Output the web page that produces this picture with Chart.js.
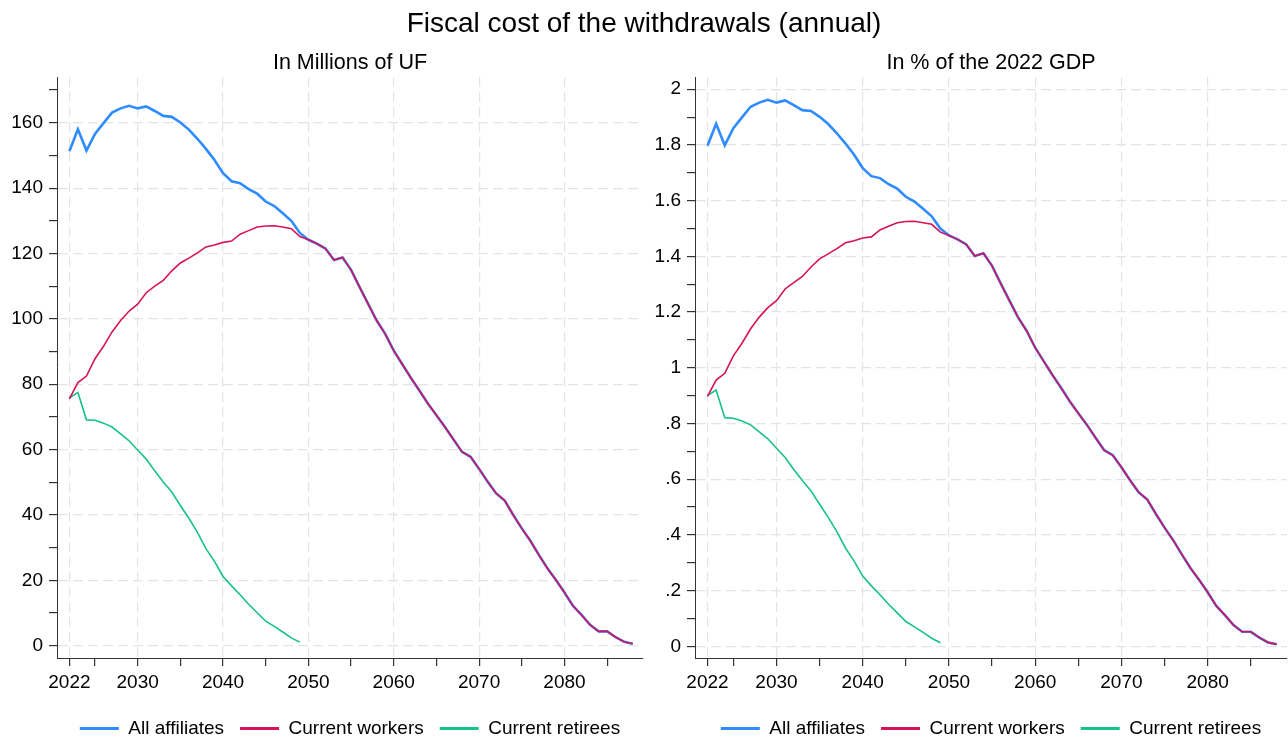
<!DOCTYPE html>
<html>
<head>
<meta charset="utf-8">
<title>Fiscal cost of the withdrawals (annual)</title>
<script src="https://cdn.jsdelivr.net/npm/chart.js@4.4.1/dist/chart.umd.min.js"></script>
<style>
	body { margin: 0; width: 1288px; height: 737px; overflow: hidden; background: #fff; position: relative; }
	#title { position: absolute; top: 9px; left: 0; width: 1288px; text-align: center; font: 28px/28px 'Liberation Sans', Arial, sans-serif; color: #000; z-index: 2; }
	.panel { position: absolute; top: 0; width: 644px; height: 748px; }
</style>
</head>
<body>
<div id="title">Fiscal cost of the withdrawals (annual)</div>
<div class="panel" style="left:0"><canvas id="ufChart"></canvas></div>
<div class="panel" style="left:644px"><canvas id="gdpChart"></canvas></div>
<script>
// Years on the x axis.
const years = [2022, 2023, 2024, 2025, 2026, 2027, 2028, 2029, 2030, 2031,
	2032, 2033, 2034, 2035, 2036, 2037, 2038, 2039, 2040, 2041,
	2042, 2043, 2044, 2045, 2046, 2047, 2048, 2049, 2050, 2051,
	2052, 2053, 2054, 2055, 2056, 2057, 2058, 2059, 2060, 2061,
	2062, 2063, 2064, 2065, 2066, 2067, 2068, 2069, 2070, 2071,
	2072, 2073, 2074, 2075, 2076, 2077, 2078, 2079, 2080, 2081,
	2082, 2083, 2084, 2085, 2086, 2087, 2088];

// Series labels.
const seriesNames = ["All affiliates", "Current workers", "Current retirees"];

// Left panel, in millions of UF.
const ufAll = [151.3, 158.0, 151.5, 156.6, 159.9, 163.1, 164.4, 165.2, 164.4, 165.0,
	163.6, 162.1, 161.8, 160.1, 157.9, 155.1, 152.0, 148.6, 144.6, 142.1,
	141.5, 139.7, 138.3, 135.9, 134.5, 132.3, 130.0, 126.3, 124.2, 123.0,
	121.5, 118.0, 118.8, 115.0, 109.7, 104.6, 99.5, 95.4, 90.3, 86.1,
	82.0, 78.1, 74.1, 70.5, 66.9, 63.1, 59.3, 57.8, 54.1, 50.2,
	46.6, 44.4, 40.0, 35.9, 32.1, 27.8, 23.7, 20.1, 16.3, 12.2,
	9.4, 6.4, 4.4, 4.4, 2.6, 1.2, 0.6];
const ufWorkers = [75.5, 80.5, 82.5, 87.8, 91.6, 96.0, 99.5, 102.4, 104.5, 108.0,
	110.0, 111.8, 114.7, 117.1, 118.6, 120.2, 122.0, 122.6, 123.4, 123.8,
	125.9, 127.0, 128.1, 128.4, 128.5, 128.1, 127.6, 125.2, 124.2, 123.0,
	121.5, 118.0, 118.8, 115.0, 109.7, 104.6, 99.5, 95.4, 90.3, 86.1,
	82.0, 78.1, 74.1, 70.5, 66.9, 63.1, 59.3, 57.8, 54.1, 50.2,
	46.6, 44.4, 40.0, 35.9, 32.1, 27.8, 23.7, 20.1, 16.3, 12.2,
	9.4, 6.4, 4.4, 4.4, 2.6, 1.2, 0.6];
const ufRetirees = [75.8, 77.5, 69.1, 69.0, 68.1, 66.9, 64.8, 62.7, 59.9, 57.1,
	53.5, 50.1, 47.0, 42.9, 39.0, 34.7, 29.7, 25.8, 21.2, 18.3,
	15.6, 12.7, 10.1, 7.5, 5.9, 4.2, 2.4, 1.1];

// Right panel, in % of the 2022 GDP.
const gdpAll = [1.797, 1.876, 1.799, 1.860, 1.899, 1.937, 1.952, 1.962, 1.952, 1.960,
	1.943, 1.925, 1.922, 1.901, 1.875, 1.842, 1.805, 1.765, 1.717, 1.688,
	1.681, 1.659, 1.643, 1.614, 1.597, 1.571, 1.544, 1.500, 1.475, 1.461,
	1.443, 1.401, 1.411, 1.366, 1.303, 1.242, 1.182, 1.133, 1.072, 1.023,
	0.974, 0.928, 0.880, 0.837, 0.795, 0.749, 0.704, 0.686, 0.643, 0.596,
	0.553, 0.527, 0.475, 0.426, 0.381, 0.330, 0.281, 0.239, 0.194, 0.145,
	0.112, 0.076, 0.052, 0.052, 0.031, 0.014, 0.007];
const gdpWorkers = [0.897, 0.956, 0.980, 1.043, 1.088, 1.140, 1.182, 1.216, 1.241, 1.283,
	1.306, 1.328, 1.362, 1.391, 1.409, 1.428, 1.449, 1.456, 1.466, 1.470,
	1.495, 1.508, 1.521, 1.525, 1.526, 1.521, 1.515, 1.487, 1.475, 1.461,
	1.443, 1.401, 1.411, 1.366, 1.303, 1.242, 1.182, 1.133, 1.072, 1.023,
	0.974, 0.928, 0.880, 0.837, 0.795, 0.749, 0.704, 0.686, 0.643, 0.596,
	0.553, 0.527, 0.475, 0.426, 0.381, 0.330, 0.281, 0.239, 0.194, 0.145,
	0.112, 0.076, 0.052, 0.052, 0.031, 0.014, 0.007];
const gdpRetirees = [0.900, 0.920, 0.821, 0.819, 0.809, 0.795, 0.770, 0.745, 0.711, 0.678,
	0.635, 0.595, 0.558, 0.510, 0.463, 0.412, 0.353, 0.306, 0.252, 0.217,
	0.185, 0.151, 0.120, 0.089, 0.070, 0.050, 0.029, 0.013];

// Tick positions and labels.
const xMajor = [2022, 2030, 2040, 2050, 2060, 2070, 2080];
const xMinor = [2025, 2035, 2045, 2055, 2065, 2075, 2085];
const ufMajor = [0, 20, 40, 60, 80, 100, 120, 140, 160];
const ufMinor = [10, 30, 50, 70, 90, 110, 130, 150, 170];
const ufLabels = ["0", "20", "40", "60", "80", "100", "120", "140", "160"];
const gdpMajor = [0, 0.2, 0.4, 0.6, 0.8, 1, 1.2, 1.4, 1.6, 1.8, 2];
const gdpMinor = [0.1, 0.3, 0.5, 0.7, 0.9, 1.1, 1.3, 1.5, 1.7, 1.9];
const gdpLabels = ["0", ".2", ".4", ".6", ".8", "1", "1.2", "1.4", "1.6", "1.8", "2"];

const colors = ["#2e8cff", "#d6125a", "#16c384"];
const gridColor = "#e4e4e4";
const axisColor = "#333";

Chart.defaults.font.family = "'Liberation Sans', Arial, sans-serif";
Chart.defaults.color = "#000";

// Pair years with values.
function toPoints(values) {
	return values.map(function (v, i) {
		return { x: years[i], y: v };
	});
}

// Build one panel of the figure.
function makeChart(canvasId, cfg) {
	const ctx = document.getElementById(canvasId).getContext('2d');
	const series = [cfg.all, cfg.workers, cfg.retirees];
	const widths = [2.6, 1.6, 1.6];
	// Workers drawn over "all affiliates" where they coincide.
	const orders = [3, 1, 2];
	const xTicks = xMajor.concat(xMinor).sort((a, b) => a - b);
	const yTicks = cfg.yMajor.concat(cfg.yMinor).sort((a, b) => a - b);

	return new Chart(ctx, {
		type: 'line',
		data: {
			datasets: series.map(function (values, i) {
				return {
					label: seriesNames[i],
					data: toPoints(values),
					borderColor: colors[i],
					backgroundColor: colors[i],
					borderWidth: widths[i],
					order: orders[i],
					pointRadius: 0,
					tension: 0,
					fill: false
				};
			})
		},
		options: {
			responsive: true,
			maintainAspectRatio: false,
			animation: false,
			layout: { padding: { top: 40, left: 0, right: 1, bottom: 0 } },
			plugins: {
				title: {
					display: true,
					text: cfg.title,
					fullSize: false,
					color: '#000',
					font: { size: 21.5, weight: 'normal' },
					padding: { top: 10.6, bottom: 0.6 }
				},
				legend: {
					position: 'bottom',
					fullSize: false,
					labels: {
						boxWidth: 39,
						boxHeight: 3,
						padding: 16,
						color: '#000',
						font: { size: 19 },
						generateLabels: function (chart) {
							const items = Chart.defaults.plugins.legend.labels.generateLabels(chart);
							items.sort((a, b) => a.datasetIndex - b.datasetIndex);
							return items.map(item => Object.assign(item, { lineWidth: 0, fillStyle: item.strokeStyle }));
						}
					}
				},
				tooltip: { enabled: false }
			},
			scales: {
				x: {
					type: 'linear',
					min: 2020.55,
					max: 2089.2,
					afterBuildTicks: function (scale) {
						scale.ticks = xTicks.map(v => ({ value: v }));
					},
					afterFit: function (scale) {
						scale.height = 45;
					},
					ticks: {
						autoSkip: false,
						maxRotation: 0,
						padding: 5,
						color: '#000',
						font: { size: 19 },
						callback: v => xMajor.includes(v) ? String(v) : ''
					},
					grid: {
						color: c => (c.tick && xMajor.includes(c.tick.value)) ? gridColor : 'rgba(0,0,0,0)',
						tickColor: axisColor,
						tickLength: 8,
						lineWidth: 1.2
					},
					border: { color: axisColor, width: 1, dash: [10, 5] }
				},
				y: {
					type: 'linear',
					min: cfg.yMin,
					max: cfg.yMax,
					afterBuildTicks: function (scale) {
						scale.ticks = yTicks.map(v => ({ value: v }));
					},
					afterFit: function (scale) {
						scale.width = cfg.yWidth;
					},
					ticks: {
						autoSkip: false,
						padding: 6,
						color: '#000',
						font: { size: 19 },
						callback: function (v) {
							const i = cfg.yMajor.indexOf(v);
							return i >= 0 ? cfg.yLabels[i] : '';
						}
					},
					grid: {
						color: c => (c.tick && cfg.yMajor.includes(c.tick.value)) ? gridColor : 'rgba(0,0,0,0)',
						tickColor: axisColor,
						tickLength: 8,
						lineWidth: 1.2
					},
					border: { color: axisColor, width: 1, dash: [10, 5] }
				}
			}
		}
	});
}

makeChart('ufChart', {
	title: "In Millions of UF",
	all: ufAll, workers: ufWorkers, retirees: ufRetirees,
	yMin: -3.76, yMax: 174,
	yMajor: ufMajor, yMinor: ufMinor, yLabels: ufLabels,
	yWidth: 57
});

makeChart('gdpChart', {
	title: "In % of the 2022 GDP",
	all: gdpAll, workers: gdpWorkers, retirees: gdpRetirees,
	yMin: -0.042, yMax: 2.044,
	yMajor: gdpMajor, yMinor: gdpMinor, yLabels: gdpLabels,
	yWidth: 51
});
</script>
</body>
</html>
